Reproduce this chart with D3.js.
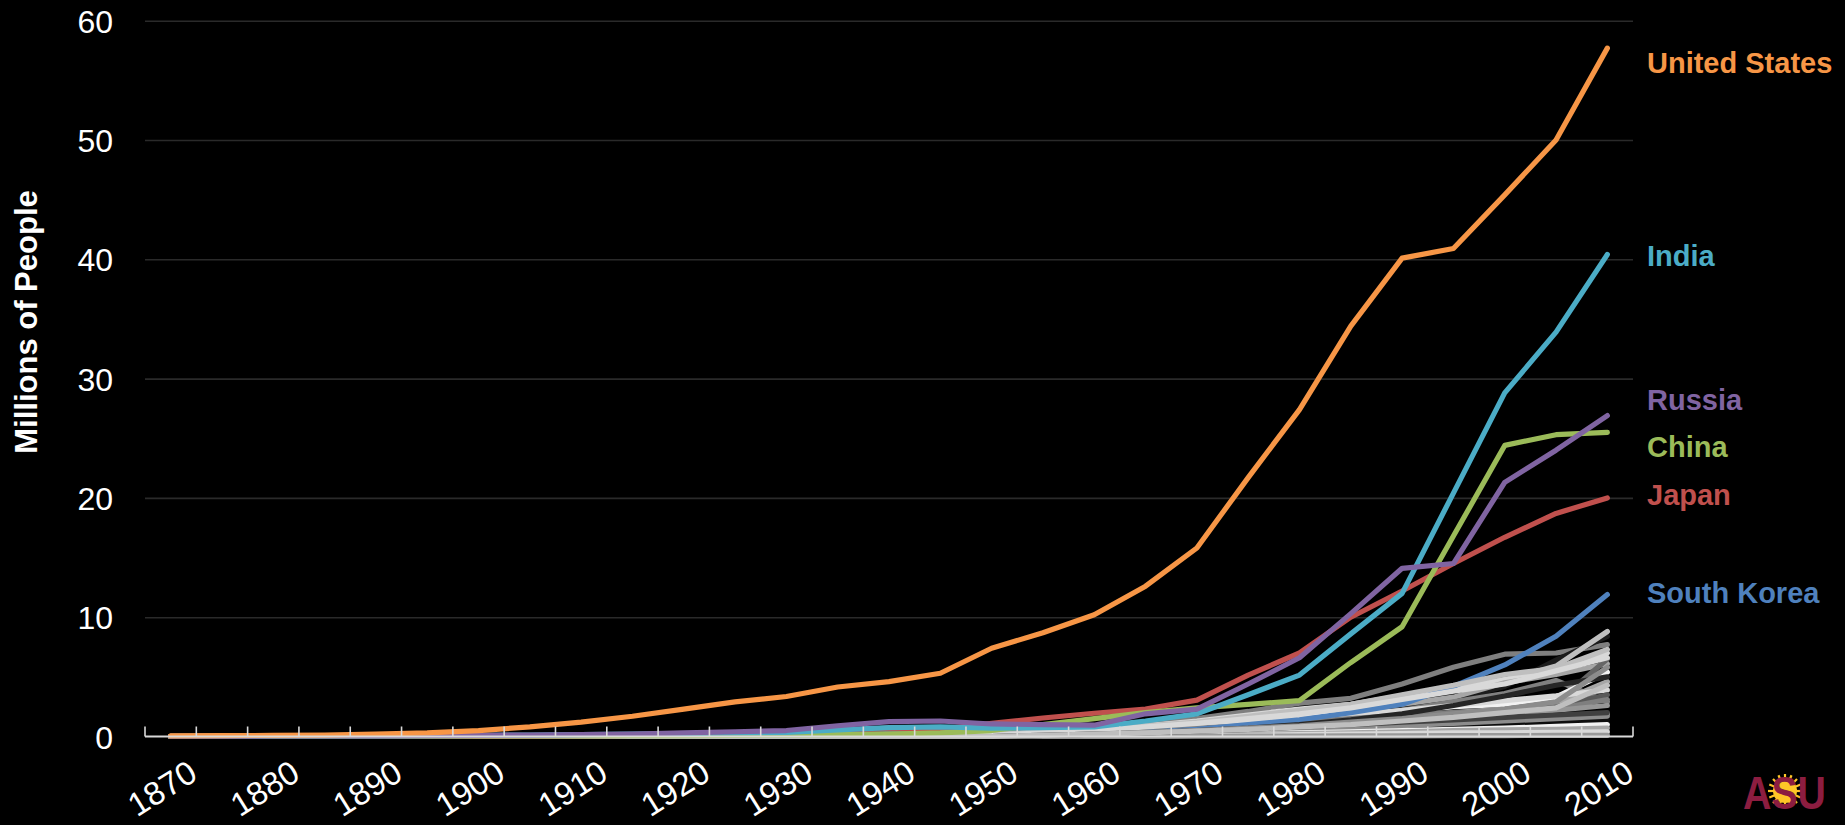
<!DOCTYPE html>
<html><head><meta charset="utf-8">
<script src="https://cdn.jsdelivr.net/npm/d3@7"></script>
<style>
html,body{margin:0;padding:0;background:#000;overflow:hidden}
svg{display:block}
text{font-family:"Liberation Sans",Arial,Helvetica,sans-serif}
</style>
</head><body>
<svg id="chart" width="1845" height="825"></svg>
<script>
// ---------- data ----------
const years = [1870,1875,1880,1885,1890,1895,1900,1905,1910,1915,1920,1925,1930,1935,1940,1945,1950,1955,1960,1965,1970,1975,1980,1985,1990,1995,2000,2005,2010];
const xTickLabels = [1870,1880,1890,1900,1910,1920,1930,1940,1950,1960,1970,1980,1990,2000,2010];
const yTickValues = [0,10,20,30,40,50,60];
const yTitle = "Millions of People";

const unitedStates = [0.05,0.07,0.09,0.12,0.2,0.3,0.5,0.8,1.2,1.7,2.3,2.9,3.35,4.15,4.6,5.3,7.4,8.7,10.2,12.6,15.8,21.7,27.4,34.4,40.1,40.9,45.4,50.0,57.7];
const india        = [0.02,0.03,0.04,0.05,0.06,0.08,0.1,0.12,0.15,0.2,0.25,0.3,0.35,0.55,0.75,0.8,0.7,0.75,0.8,1.3,1.9,3.5,5.15,8.6,12.0,20.4,28.8,33.9,40.4];
const russia       = [0.02,0.03,0.04,0.05,0.06,0.08,0.1,0.12,0.15,0.2,0.3,0.4,0.5,0.9,1.25,1.3,1.05,1.0,0.95,1.9,2.3,4.4,6.6,10.3,14.1,14.5,21.3,24.0,26.9];
const china        = [0.01,0.01,0.02,0.02,0.03,0.03,0.04,0.05,0.06,0.07,0.08,0.1,0.12,0.15,0.2,0.3,0.5,1.0,1.5,2.0,2.4,2.7,3.0,6.2,9.2,16.8,24.4,25.3,25.5];
const japan        = [0.01,0.01,0.01,0.02,0.02,0.03,0.04,0.05,0.07,0.1,0.15,0.2,0.3,0.5,0.7,0.6,1.1,1.55,1.95,2.3,3.05,5.15,7.0,10.0,12.2,14.5,16.7,18.7,20.0];
const southKorea   = [0,0,0,0,0,0,0,0,0,0,0.01,0.01,0.02,0.03,0.05,0.05,0.1,0.15,0.2,0.35,0.6,1.0,1.4,2.0,2.7,4.2,6.0,8.4,11.9];

const namedSeries = ["United States","India","Russia","China","Japan","South Korea"];
const namedColors = ["#F79646","#4BACC6","#8064A2","#9BBB59","#C0504D","#4F81BD"];
// label baselines, expressed in chart units (millions)
const namedLabelAt = [55.6, 39.4, 27.4, 23.4, 19.4, 11.2];

// other countries (grey lines)
const otherCountries = [
  [0,0,0,0,0,0,0,0,0.05,0.05,0.1,0.1,0.15,0.2,0.25,0.25, 0.2,0.4,0.6,1.0,1.5,2.1,2.8,3.2,4.4,5.8,6.9,7.0,7.7],
  [0,0,0,0,0,0,0,0,0,0,0.02,0.03,0.05,0.05,0.08,0.1, 0.2,0.3,0.4,0.5,0.7,1.0,1.4,1.8,2.3,3.1,4.2,6.4,8.4],
  [0,0,0,0,0,0,0,0,0,0,0,0,0.02,0.05,0.1,0.15, 0.2,0.3,0.5,0.8,1.2,1.6,2.0,2.6,3.3,4.0,4.7,5.9,8.8],
  [0,0,0,0,0,0,0,0,0,0,0,0,0,0,0.05,0.05, 0.1,0.3,0.6,0.9,1.3,1.8,2.3,2.7,3.4,4.0,4.8,5.6,7.0],
  [0,0,0,0,0,0,0,0,0,0,0,0,0,0,0,0.05, 0.1,0.3,0.5,0.8,1.1,1.5,1.9,2.2,2.7,3.3,4.5,5.2,6.1],
  [0,0,0,0,0,0,0,0,0,0,0,0,0,0,0,0, 0.1,0.2,0.3,0.5,0.8,1.0,1.2,1.7,2.2,2.9,3.6,4.7,2.9],
  [0,0,0,0,0,0,0,0,0,0,0,0,0,0,0,0, 0,0.1,0.1,0.2,0.3,0.5,0.7,0.9,1.2,1.6,2.1,2.8,6.5],
  [0,0,0,0,0,0,0,0,0,0,0,0,0,0,0,0.05, 0.1,0.3,0.6,0.9,1.0,1.3,1.6,1.9,2.1,2.5,2.7,3.3,5.4],
  [0,0,0,0,0,0,0,0,0,0,0,0,0,0,0,0, 0,0.1,0.3,0.5,0.7,0.8,1.0,1.3,1.6,2.0,2.3,2.8,4.6],
  [0,0,0,0,0,0,0,0,0,0,0,0,0,0,0.02,0.05, 0.1,0.2,0.4,0.6,0.9,1.2,1.5,1.8,2.2,2.6,3.0,3.4,3.9],
  [0,0,0,0,0,0,0,0,0,0,0,0,0,0,0,0, 0,0.1,0.15,0.25,0.35,0.5,0.7,1.0,1.3,1.6,2.0,2.5,3.5],
  [0,0,0,0,0,0,0,0,0,0,0,0.02,0.03,0.05,0.08,0.1, 0.1,0.2,0.3,0.5,0.7,0.9,1.2,1.5,1.8,2.0,2.1,2.3,3.1],
  [0,0,0,0,0,0,0,0,0,0,0,0,0,0,0,0, 0,0.1,0.2,0.3,0.4,0.6,0.8,1.0,1.3,1.6,1.9,2.2,2.6],
  [0,0,0,0,0,0,0,0,0,0,0,0,0,0,0,0, 0,0.05,0.1,0.15,0.2,0.35,0.5,0.65,0.8,0.95,1.1,1.3,1.4],
  [0,0,0,0,0,0,0,0,0,0,0,0,0,0,0,0, 0,0.1,0.2,0.3,0.4,0.55,0.7,0.9,1.1,1.3,1.5,1.7,1.9],
  [0,0,0,0,0,0,0,0,0,0,0,0,0,0,0,0, 0,0.05,0.1,0.2,0.3,0.4,0.5,0.7,0.9,1.1,1.3,1.5,1.7],
  [0,0,0,0,0,0,0,0,0,0,0,0,0,0,0,0, 0,0.05,0.1,0.15,0.2,0.25,0.3,0.4,0.5,0.6,0.7,0.85,1.0],
  [0,0,0,0,0,0,0,0,0,0,0,0,0,0,0,0, 0,0,0.05,0.1,0.15,0.2,0.25,0.3,0.4,0.5,0.55,0.6,0.7],
  [0,0,0,0,0,0,0,0,0,0,0,0,0,0,0,0, 0,0,0,0.05,0.1,0.1,0.15,0.2,0.25,0.3,0.3,0.35,0.4],
  [0,0,0,0,0,0,0,0,0,0,0,0,0,0,0,0, 0,0,0,0,0.02,0.03,0.04,0.05,0.06,0.07,0.08,0.09,0.1],
  [0,0,0,0,0,0,0,0,0,0,0,0,0,0,0,0, 0,0.1,0.2,0.3,0.45,0.6,0.8,1.0,1.2,1.4,1.6,1.8,2.0],
  [0,0,0,0,0,0,0,0,0,0,0,0,0,0,0,0.05, 0.2,0.4,0.6,0.9,1.2,1.7,2.2,2.7,3.5,4.3,5.2,5.7,7.3],
  [0,0,0,0,0,0,0,0,0,0,0,0,0,0,0,0, 0.1,0.3,0.5,0.8,1.1,1.5,1.9,2.4,3.1,3.8,4.4,5.5,6.6],
  [0,0,0,0,0,0,0,0,0,0,0,0,0,0,0,0, 0,0.1,0.2,0.3,0.5,0.7,1.0,1.4,1.9,2.6,3.4,4.3,5.0],
  [0,0,0,0,0,0,0,0,0,0,0,0,0,0,0,0, 0,0.1,0.2,0.35,0.5,0.7,0.9,1.2,1.5,1.9,2.3,2.9,5.8],
  [0,0,0,0,0,0,0,0,0,0,0,0,0,0,0,0, 0,0.1,0.2,0.3,0.45,0.6,0.8,1.0,1.3,1.6,2.0,2.4,4.3]
];
const otherColors = ["#7f7f7f","#1c1c1c","#bfbfbf","#d9d9d9","#a6a6a6","#808080","#666666","#f2f2f2","#a6a6a6","#d9d9d9","#595959","#7f7f7f","#969696","#0d0d0d","#bfbfbf","#8c8c8c","#f2f2f2","#a6a6a6","#d9d9d9","#999999","#404040","#bfbfbf","#d9d9d9","#262626","#8c8c8c","#bfbfbf"];

// ---------- layout ----------
const W = 1845, H = 825;
const plot = {left:145, right:1633, top:20.7, bottom:736.5};
const svg = d3.select("#chart");
svg.append("rect").attr("width",W).attr("height",H).attr("fill","#000");

const x = d3.scaleBand().domain(years).range([plot.left, plot.right]).paddingInner(0).paddingOuter(0);
const cx = d => x(d) + x.bandwidth()/2;
const y = d3.scaleLinear().domain([0,60]).range([plot.bottom, plot.top]);

// gridlines
const grid = svg.append("g").attr("transform",`translate(${plot.left},0)`)
  .call(d3.axisLeft(y).tickValues(yTickValues.filter(v=>v>0)).tickSize(-(plot.right-plot.left)).tickFormat(""));
grid.select(".domain").remove();
grid.selectAll("line").attr("stroke","#2a2a2a").attr("stroke-width",1.6);

// y axis labels
const yAx = svg.append("g").attr("transform",`translate(${plot.left},0)`)
  .call(d3.axisLeft(y).tickValues(yTickValues).tickSize(0).tickPadding(32));
yAx.select(".domain").remove();
yAx.selectAll("text").attr("fill","#fff").attr("font-size",32).attr("font-family",'"Liberation Sans",Arial,sans-serif').attr("dy","0.36em");

// y title
svg.append("text").attr("transform",`translate(37,${322}) rotate(-90)`)
  .attr("text-anchor","middle").attr("fill","#fff").attr("font-weight","bold").attr("font-size",31)
  .text(yTitle);

// lines
const line = d3.line().x((d,i)=>cx(years[i])).y(d=>y(d));
const linesG = svg.append("g").attr("fill","none").attr("stroke-width",5.2).attr("stroke-linejoin","round").attr("stroke-linecap","round");
function drawSeries(vals,color){ linesG.append("path").attr("d",line(vals)).attr("stroke",color); }

otherCountries.forEach((v,i)=>{ if(i<13) drawSeries(v,otherColors[i]); });
drawSeries(southKorea, namedColors[5]);
otherCountries.forEach((v,i)=>{ if(i>=13) drawSeries(v,otherColors[i]); });
drawSeries(japan, namedColors[4]);
drawSeries(china, namedColors[3]);
drawSeries(india, namedColors[1]);
drawSeries(russia, namedColors[2]);
drawSeries(unitedStates, namedColors[0]);

// x axis line + tick marks (at category boundaries)
const axisG = svg.append("g");
axisG.append("line").attr("x1",plot.left).attr("x2",plot.right).attr("y1",plot.bottom).attr("y2",plot.bottom)
  .attr("stroke","#d9d9d9").attr("stroke-width",2);
const bounds = years.map(d=>x(d)).concat([plot.right]);
axisG.selectAll("line.tk").data(bounds).enter().append("line").attr("class","tk")
  .attr("x1",d=>d).attr("x2",d=>d).attr("y1",plot.bottom).attr("y2",plot.bottom-10)
  .attr("stroke","#d9d9d9").attr("stroke-width",1.6);

// x tick labels
const xAx = svg.append("g").attr("transform",`translate(${x.bandwidth()/2},${plot.bottom})`)
  .call(d3.axisBottom(x).tickValues(xTickLabels).tickSize(0));
xAx.select(".domain").remove();
xAx.selectAll("text").attr("fill","#fff").attr("font-size",33).attr("font-family",'"Liberation Sans",Arial,sans-serif')
  .attr("text-anchor","end").attr("x",0).attr("y",0).attr("dy",0)
  .attr("transform","translate(3,42) rotate(-32)");

// series labels
namedSeries.forEach((name,i)=>{
  svg.append("text").attr("x",1647).attr("y",y(namedLabelAt[i]))
    .attr("fill",namedColors[i]).attr("font-weight","bold").attr("font-size",29).text(name);
});

// ASU logo (approximation): sun behind a single "ASU" word
const logo = svg.append("g").attr("transform","translate(1743,773)");
const sun = logo.append("g").attr("transform","translate(42,18)");
sun.selectAll("line").data(d3.range(16)).enter().append("line")
  .attr("x1",0).attr("y1",0).attr("x2",d=>17*Math.cos(d*Math.PI/8)).attr("y2",d=>17*Math.sin(d*Math.PI/8))
  .attr("stroke","#FFC627").attr("stroke-width",2.2);
sun.append("circle").attr("r",12).attr("fill","#FFC627");
logo.append("text").attr("x",0).attr("y",36).attr("font-size",46).attr("font-weight","bold")
  .attr("font-family",'"DejaVu Serif",serif')
  .attr("fill","#8C1D40").attr("textLength",83).attr("lengthAdjust","spacingAndGlyphs").text("ASU");
</script>
</body></html>
